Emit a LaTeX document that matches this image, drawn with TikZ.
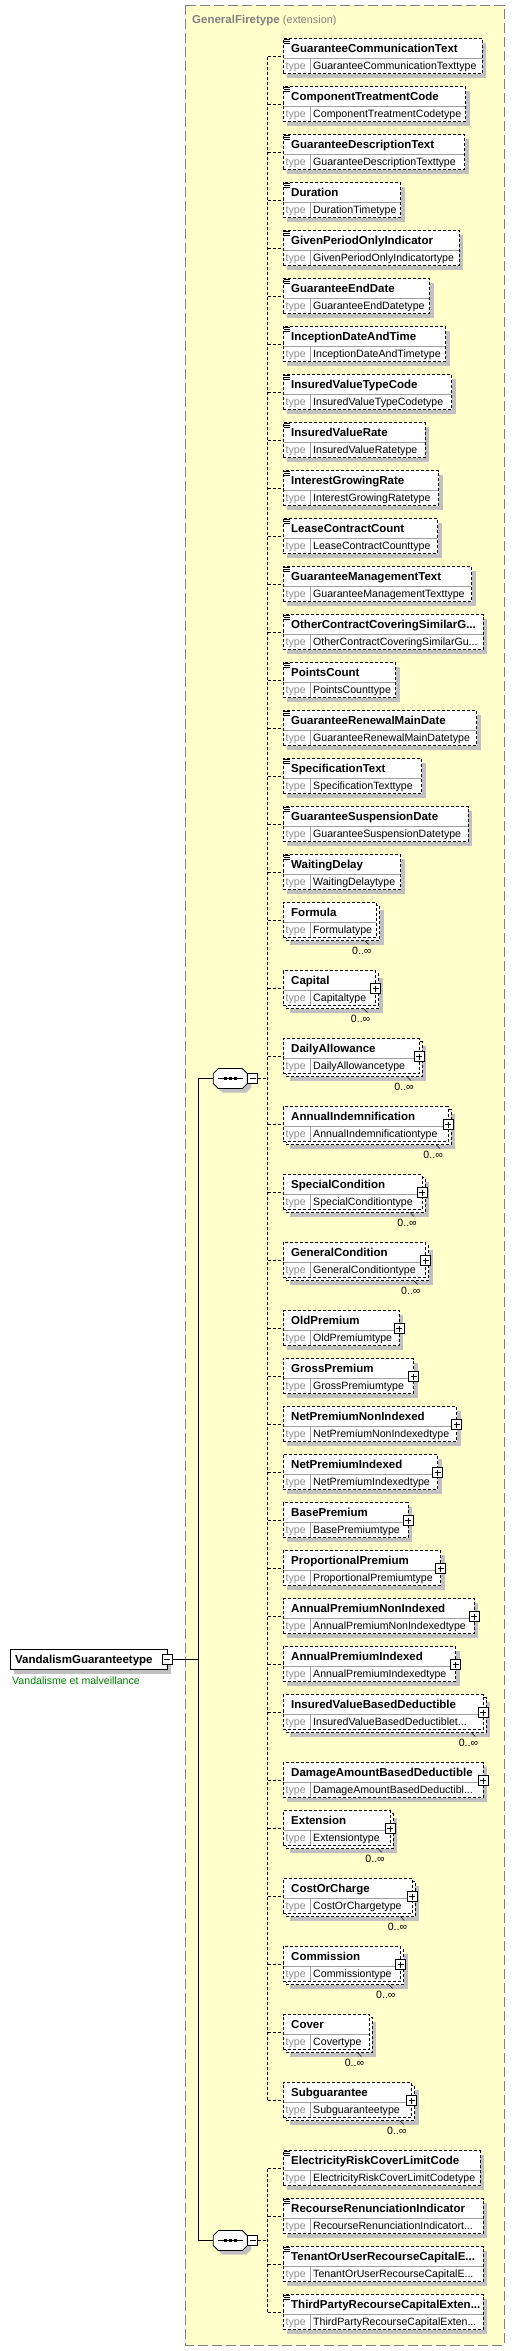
\documentclass[tikz,border=0pt]{standalone}
\usepackage{fontspec}
\setmainfont{Liberation Sans}
\definecolor{yel}{RGB}{255,255,204}
\definecolor{bgray}{RGB}{128,128,128}
\definecolor{shadowgray}{RGB}{192,192,192}
\definecolor{divgray}{RGB}{160,160,160}
\definecolor{typegray}{RGB}{140,140,140}
\definecolor{anngreen}{RGB}{0,128,0}
\tikzset{
 dsh/.style={draw=black, line width=0.8pt, dash pattern=on 3pt off 2pt},
 ebox/.style={dsh, fill=white, inner sep=0pt, outer sep=0pt, minimum height=35pt},
 shc/.style={fill=shadowgray},
 divc/.style={draw=divgray, line width=0.8pt},
 sol/.style={draw=black, line width=0.8pt},
 nm/.style={inner sep=0pt, font=\fontsize{11.5}{13}\selectfont\bfseries},
 ty/.style={inner sep=0pt, text=typegray, font=\fontsize{10.6}{12}\selectfont},
 tv/.style={inner sep=0pt, text=black, font=\fontsize{10.6}{12}\selectfont},
 lab/.style={inner sep=0pt, font=\fontsize{10.6}{12}\selectfont},
}
% #1 id, #2 top, #3 right, #4 name, #5 type, #6 multi, #7 kind (0 none,1 simple icon,2 plus)
\newcommand{\xel}[7]{%
  \pgfmathsetmacro\xw{#3-283}%
  \ifnum#6=1\relax
    \fill[shc] (290,#2+7) rectangle (#3+7,#2+42);
    \draw[dsh,fill=white] (286,#2+3) rectangle (#3+3,#2+38);
    \draw[line width=0.6pt] (#3-12,#2+38) -- (#3-8,#2+42);
    \node[lab,anchor=base east] (#1l) at (#3-5,#2+52.3) {0..∞};
  \else
    \fill[shc] (287,#2+4) rectangle (#3+4,#2+39);
  \fi
  \node[ebox,minimum width=\xw pt,anchor=north west] (#1) at (283,#2) {};
  \draw[divc] (283.5,#2+20) -- (#3-0.5,#2+20);
  \draw[divc] (310,#2+20) -- (310,#2+34.5);
  \node[nm,anchor=base west] (#1n) at (291,#2+13.8) {#4};
  \node[ty,anchor=base west] (#1t) at (285.5,#2+31.2) {type};
  \node[tv,anchor=base west] (#1v) at (313,#2+31.2) {#5};
  \ifnum#7=1\relax
    \draw[line width=0.7pt] (284.3,#2+1.2) -- (289.8,#2+1.2) (284.3,#2+2.8) -- (289.8,#2+2.8) (284.3,#2+4.4) -- (289.8,#2+4.4);
  \fi
  \ifnum#7=2\relax
    \draw[sol,fill=white] (#3-5,#2+13) rectangle (#3+5,#2+23);
    \draw[sol] (#3-3,#2+18) -- (#3+3,#2+18) (#3,#2+15) -- (#3,#2+21);
  \fi
  \coordinate (#1s) at (267.7,#2+18);
  \draw[dsh] (#1s) -- ([yshift=-18pt]#1.north west);
}
% sequence compositor: #1 id, #2 center y
\newcommand{\xseq}[2]{%
  \fill[shc] (217.3,#2-1) -- (222.3,#2-6) -- (246.3,#2-6) -- (251.3,#2-1) -- (251.3,#2+9) -- (246.3,#2+14) -- (222.3,#2+14) -- (217.3,#2+9) -- cycle;
  \draw[sol,fill=white] (213.3,#2-5) -- (218.3,#2-10) -- (242.3,#2-10) -- (247.3,#2-5) -- (247.3,#2+5) -- (242.3,#2+10) -- (218.3,#2+10) -- (213.3,#2+5) -- cycle;
  \node[inner sep=0pt, outer sep=0pt, minimum width=34pt, minimum height=20pt] (#1) at (230.3,#2) {};
  \draw[sol] (218,#2) -- (243,#2);
  \fill (223.5,#2-1.5) rectangle ++(3,3);
  \fill (228.5,#2-1.5) rectangle ++(3,3);
  \fill (233.5,#2-1.5) rectangle ++(3,3);
  \draw[sol,fill=white] (247.7,#2-5) rectangle (257.7,#2+5);
  \draw[sol] (249.7,#2) -- (255.7,#2);
  \coordinate (#1m) at (257.7,#2);
}
\begin{document}
\begin{tikzpicture}[x=1pt,y=-1pt]
\useasboundingbox (0,0) rectangle (515,2351);
% container
\draw[draw=bgray, fill=yel, line width=0.8pt, dash pattern=on 10pt off 4pt] (185.7,5) rectangle (504,2345);
\node[anchor=base west, inner sep=0pt, text=bgray] (title) at (192,23) {\fontsize{11.5}{13}\selectfont\bfseries GeneralFiretype \fontsize{10.8}{13}\selectfont\mdseries(extension)};

\xel{e1}{38.5}{482.3}{GuaranteeCommunicationText}{GuaranteeCommunicationTexttype}{0}{1}
\xel{e2}{86.5}{465.7}{ComponentTreatmentCode}{ComponentTreatmentCodetype}{0}{1}
\xel{e3}{134.5}{464.7}{GuaranteeDescriptionText}{GuaranteeDescriptionTexttype}{0}{1}
\xel{e4}{182.5}{400.7}{Duration}{DurationTimetype}{0}{1}
\xel{e5}{230.5}{459.3}{GivenPeriodOnlyIndicator}{GivenPeriodOnlyIndicatortype}{0}{1}
\xel{e6}{278.5}{429.7}{GuaranteeEndDate}{GuaranteeEndDatetype}{0}{1}
\xel{e7}{326.5}{445.7}{InceptionDateAndTime}{InceptionDateAndTimetype}{0}{1}
\xel{e8}{374.5}{451.7}{InsuredValueTypeCode}{InsuredValueTypeCodetype}{0}{1}
\xel{e9}{422.5}{425}{InsuredValueRate}{InsuredValueRatetype}{0}{1}
\xel{e10}{470.5}{438.7}{InterestGrowingRate}{InterestGrowingRatetype}{0}{1}
\xel{e11}{518.5}{437.7}{LeaseContractCount}{LeaseContractCounttype}{0}{1}
\xel{e12}{566.5}{471.7}{GuaranteeManagementText}{GuaranteeManagementTexttype}{0}{1}
\xel{e13}{614.5}{483.3}{OtherContractCoveringSimilarG...}{OtherContractCoveringSimilarGu...}{0}{1}
\xel{e14}{662.5}{395.7}{PointsCount}{PointsCounttype}{0}{1}
\xel{e15}{710.5}{476.7}{GuaranteeRenewalMainDate}{GuaranteeRenewalMainDatetype}{0}{1}
\xel{e16}{758.5}{421.7}{SpecificationText}{SpecificationTexttype}{0}{1}
\xel{e17}{806.5}{468.3}{GuaranteeSuspensionDate}{GuaranteeSuspensionDatetype}{0}{1}
\xel{e18}{854.5}{400.7}{WaitingDelay}{WaitingDelaytype}{0}{1}
\xel{e19}{902.5}{376.7}{Formula}{Formulatype}{1}{0}
\xel{e20}{970.5}{375.5}{Capital}{Capitaltype}{1}{2}
\xel{e21}{1038.5}{419}{DailyAllowance}{DailyAllowancetype}{1}{2}
\xel{e22}{1106.5}{448}{AnnualIndemnification}{AnnualIndemnificationtype}{1}{2}
\xel{e23}{1174.5}{422}{SpecialCondition}{SpecialConditiontype}{1}{2}
\xel{e24}{1242.5}{425.7}{GeneralCondition}{GeneralConditiontype}{1}{2}
\xel{e25}{1310.5}{399.3}{OldPremium}{OldPremiumtype}{0}{2}
\xel{e26}{1358.5}{413.7}{GrossPremium}{GrossPremiumtype}{0}{2}
\xel{e27}{1406.5}{456.7}{NetPremiumNonIndexed}{NetPremiumNonIndexedtype}{0}{2}
\xel{e28}{1454.5}{437.7}{NetPremiumIndexed}{NetPremiumIndexedtype}{0}{2}
\xel{e29}{1502.5}{408}{BasePremium}{BasePremiumtype}{0}{2}
\xel{e30}{1550.5}{440.7}{ProportionalPremium}{ProportionalPremiumtype}{0}{2}
\xel{e31}{1598.5}{474.3}{AnnualPremiumNonIndexed}{AnnualPremiumNonIndexedtype}{0}{2}
\xel{e32}{1646.5}{455.7}{AnnualPremiumIndexed}{AnnualPremiumIndexedtype}{0}{2}
\xel{e33}{1694.5}{483.3}{InsuredValueBasedDeductible}{InsuredValueBasedDeductiblet...}{1}{2}
\xel{e34}{1762.5}{483.3}{DamageAmountBasedDeductible}{DamageAmountBasedDeductibl...}{0}{2}
\xel{e35}{1810.5}{390}{Extension}{Extensiontype}{1}{2}
\xel{e36}{1878.5}{412.3}{CostOrCharge}{CostOrChargetype}{1}{2}
\xel{e37}{1946.5}{400.7}{Commission}{Commissiontype}{1}{2}
\xel{e38}{2014.5}{369.3}{Cover}{Covertype}{1}{0}
\xel{e39}{2082.5}{411.7}{Subguarantee}{Subguaranteetype}{1}{2}
\xel{e40}{2150.5}{480}{ElectricityRiskCoverLimitCode}{ElectricityRiskCoverLimitCodetype}{0}{1}
\xel{e41}{2198.5}{483.3}{RecourseRenunciationIndicator}{RecourseRenunciationIndicatort...}{0}{1}
\xel{e42}{2246.5}{483.3}{TenantOrUserRecourseCapitalE...}{TenantOrUserRecourseCapitalE...}{0}{1}
\xel{e43}{2294.5}{483.3}{ThirdPartyRecourseCapitalExten...}{ThirdPartyRecourseCapitalExten...}{0}{1}

% sequences
\xseq{s1}{1078.5}
\xseq{s2}{2240.5}
\draw[dsh] (s1m) -- (s1m -| e1s);
\draw[dsh] (e1s) -- (e39s);
\draw[dsh] (s2m) -- (s2m -| e40s);
\draw[dsh] (e40s) -- (e43s);

% root
\fill[shc] (14,1653.5) rectangle (171,1673.5);
\node[draw=black, line width=0.8pt, fill=white, inner sep=0pt, outer sep=0pt, minimum width=157pt, minimum height=20pt, anchor=west] (rt) at (10,1659.5) {};
\node[nm, anchor=base west] (rtn) at (15,1663.6) {VandalismGuaranteetype};
\draw[sol,fill=white] (162,1654.5) rectangle (172,1664.5);
\draw[sol] (164,1659.5) -- (170,1659.5);
\coordinate (rtm) at (172,1659.5);
\node[anchor=base west, inner sep=0pt, text=anngreen, font=\fontsize{10.6}{12}\selectfont] (ann) at (12,1684) {Vandalisme et malveillance};

% solid connectors
\coordinate (jn) at (198.3,1659.5);
\draw[sol] (rtm) -- (jn);
\draw[sol] (s1.west -| jn) -- (s2.west -| jn);
\draw[sol] (s1.west -| jn) -- (s1.west);
\draw[sol] (s2.west -| jn) -- (s2.west);
\end{tikzpicture}
\end{document}
